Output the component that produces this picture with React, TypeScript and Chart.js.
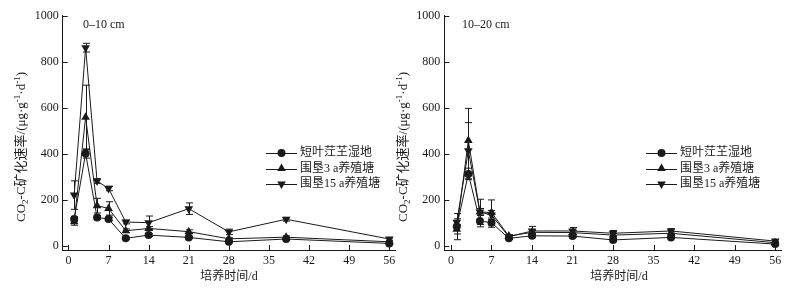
import React, { useEffect, useRef } from "react";
import { Chart, registerables } from "chart.js";

Chart.register(...registerables);

// ---------- data ----------
const days = [1, 3, 5, 7, 10, 14, 21, 28, 38, 56];
const xTicks = [0, 7, 14, 21, 28, 35, 42, 49, 56];
const yTicks = [0, 200, 400, 600, 800, 1000];
const seriesNames = ["短叶茳芏湿地", "围垦3 a养殖塘", "围垦15 a养殖塘"];

// 0–10 cm
const topWetland = [116, 401, 123, 116, 32, 46, 36, 17, 29, 10];
const topWetlandErr = [10, 20, 8, 8, 5, 6, 5, 4, 5, 3];
const top3a = [104, 558, 174, 162, 65, 75, 61, 30, 37, 17];
const top3aErr = [15, 140, 32, 29, 8, 8, 8, 5, 6, 4];
const top15a = [220, 861, 281, 249, 103, 100, 161, 60, 115, 29];
const top15aErr = [62, 19, 10, 10, 8, 29, 25, 12, 8, 5];

// 10–20 cm
const subWetland = [83, 312, 107, 100, 32, 43, 42, 25, 36, 7];
const subWetlandErr = [57, 25, 25, 20, 5, 8, 5, 8, 5, 4];
const sub3a = [71, 457, 147, 144, 42, 58, 57, 46, 54, 13];
const sub3aErr = [20, 140, 55, 55, 5, 8, 8, 8, 6, 4];
const sub15a = [102, 413, 147, 133, 39, 64, 64, 54, 64, 20];
const sub15aErr = [15, 122, 15, 20, 5, 20, 15, 12, 10, 5];

const panelLabels = ["0–10 cm", "10–20 cm"];
const xTitle = "培养时间/d";

const FONT = '"Liberation Serif", "Noto Sans CJK SC", serif';
const INK = "#1a1a1a";

type Panel = {
  width: number;
  yWidth: number;
  padRight: number;
  xMin: number;
  series: number[][];
  errs: number[][];
  label: string;
  labelX: number;
  yTitleX: number;
  xTitleX: number;
};

const styles = [
  { pointStyle: "circle", radius: 4, rotation: 0 },
  { pointStyle: "triangle", radius: 5, rotation: 0 },
  { pointStyle: "triangle", radius: 5, rotation: 180 },
];

function drawMarker(ctx: CanvasRenderingContext2D, kind: number, x: number, y: number) {
  const s = styles[kind];
  ctx.beginPath();
  if (s.pointStyle === "circle") {
    ctx.arc(x, y, s.radius, 0, Math.PI * 2);
  } else {
    let rad = (s.rotation * Math.PI) / 180;
    const r = s.radius;
    ctx.moveTo(x + Math.sin(rad) * r, y - Math.cos(rad) * r);
    rad += (2 * Math.PI) / 3;
    ctx.lineTo(x + Math.sin(rad) * r, y - Math.cos(rad) * r);
    rad += (2 * Math.PI) / 3;
    ctx.lineTo(x + Math.sin(rad) * r, y - Math.cos(rad) * r);
    ctx.closePath();
  }
  ctx.fill();
}

function drawYTitle(ctx: CanvasRenderingContext2D, cx: number, cy: number) {
  const size = 13;
  const small = 9;
  const segs = [
    { t: "CO", s: size, dy: 0 },
    { t: "2", s: small, dy: 3.5 },
    { t: "-C矿化速率/(μg·g", s: size, dy: 0 },
    { t: "-1", s: small, dy: -4 },
    { t: "·d", s: size, dy: 0 },
    { t: "-1", s: small, dy: -4 },
    { t: ")", s: size, dy: 0 },
  ];
  ctx.save();
  ctx.translate(cx, cy);
  ctx.rotate(-Math.PI / 2);
  ctx.fillStyle = INK;
  ctx.textBaseline = "middle";
  ctx.textAlign = "left";
  let total = 0;
  for (const g of segs) {
    ctx.font = `${g.s}px ${FONT}`;
    total += ctx.measureText(g.t).width;
  }
  let x = -total / 2;
  for (const g of segs) {
    ctx.font = `${g.s}px ${FONT}`;
    ctx.fillText(g.t, x, g.dy);
    x += ctx.measureText(g.t).width;
  }
  ctx.restore();
}

function makePlugin(p: Panel) {
  return {
    id: "decor",
    beforeDatasetsDraw(chart: any) {
      const ctx = chart.ctx as CanvasRenderingContext2D;
      const xs = chart.scales.x;
      const ys = chart.scales.y;
      ctx.save();
      ctx.strokeStyle = INK;
      ctx.lineWidth = 1;
      p.series.forEach((vals, si) => {
        const errs = p.errs[si];
        vals.forEach((v, i) => {
          const px = Math.round(xs.getPixelForValue(days[i])) + 0.5;
          const yTop = ys.getPixelForValue(v + errs[i]);
          const yBot = ys.getPixelForValue(v - errs[i]);
          ctx.beginPath();
          ctx.moveTo(px, yTop);
          ctx.lineTo(px, yBot);
          ctx.moveTo(px - 3.5, yTop);
          ctx.lineTo(px + 3.5, yTop);
          ctx.moveTo(px - 3.5, yBot);
          ctx.lineTo(px + 3.5, yBot);
          ctx.stroke();
        });
      });
      ctx.restore();
    },
    afterDraw(chart: any) {
      const ctx = chart.ctx as CanvasRenderingContext2D;
      const xs = chart.scales.x;
      const ys = chart.scales.y;
      const area = chart.chartArea;
      ctx.save();
      ctx.strokeStyle = INK;
      ctx.lineWidth = 1;
      // inward tick marks
      ctx.beginPath();
      for (const t of xTicks) {
        const px = Math.round(xs.getPixelForValue(t)) + 0.5;
        ctx.moveTo(px, area.bottom);
        ctx.lineTo(px, area.bottom - 5);
      }
      for (const t of yTicks) {
        const py = Math.round(ys.getPixelForValue(t)) + 0.5;
        ctx.moveTo(area.left, py);
        ctx.lineTo(area.left + 5, py);
      }
      ctx.stroke();

      // panel label
      ctx.fillStyle = INK;
      ctx.font = `12px ${FONT}`;
      ctx.textBaseline = "middle";
      ctx.textAlign = "left";
      ctx.fillText(p.label, p.labelX, 25);

      // x title
      ctx.textAlign = "center";
      ctx.font = `12px ${FONT}`;
      ctx.fillText(xTitle, p.xTitleX, 277);

      // y title
      drawYTitle(ctx, p.yTitleX, 147);

      // legend
      const rows = [153, 168.5, 184];
      seriesNames.forEach((name, i) => {
        const y = rows[i];
        ctx.beginPath();
        ctx.moveTo(266, Math.round(y) + 0.5);
        ctx.lineTo(297, Math.round(y) + 0.5);
        ctx.stroke();
        ctx.fillStyle = INK;
        drawMarker(ctx, i, 281.5, y);
        ctx.textAlign = "left";
        ctx.font = `12px ${FONT}`;
        ctx.fillText(name, 300, y);
      });
      ctx.restore();
    },
  };
}

function PanelChart({ p, left }: { p: Panel; left: number }) {
  const ref = useRef<HTMLCanvasElement | null>(null);
  useEffect(() => {
    if (!ref.current) return;
    const datasets = p.series.map((vals, si) => ({
      label: seriesNames[si],
      data: vals.map((v, i) => ({ x: days[i], y: v })),
      borderColor: INK,
      backgroundColor: INK,
      borderWidth: 1,
      pointStyle: styles[si].pointStyle as any,
      pointRadius: styles[si].radius,
      pointRotation: styles[si].rotation,
      pointBorderWidth: 0,
      tension: 0,
    }));
    const tickFont = { family: FONT, size: 12 };
    const chart = new Chart(ref.current, {
      type: "line",
      data: { datasets },
      options: {
        responsive: false,
        animation: false,
        layout: { padding: { left: 0, right: p.padRight, top: 15.7, bottom: 0 } },
        plugins: { legend: { display: false }, tooltip: { enabled: false } },
        scales: {
          x: {
            type: "linear",
            min: p.xMin,
            max: 57,
            grid: { display: false, drawTicks: false },
            border: { display: true, color: INK, width: 1 },
            ticks: {
              font: tickFont,
              color: INK,
              padding: 4,
              autoSkip: false,
              maxRotation: 0,
              callback: (v: any) => String(v),
            },
            afterBuildTicks: (s: any) => {
              s.ticks = xTicks.map((v) => ({ value: v }));
            },
            afterFit: (s: any) => {
              s.height = 41;
              s.paddingLeft = 0;
              s.paddingRight = 0;
            },
          },
          y: {
            type: "linear",
            min: -18.7,
            max: 1000,
            grid: { display: false, drawTicks: false },
            border: { display: true, color: INK, width: 1 },
            ticks: { font: tickFont, color: INK, padding: 4, callback: (v: any) => String(v) },
            afterBuildTicks: (s: any) => {
              s.ticks = yTicks.map((v) => ({ value: v }));
            },
            afterFit: (s: any) => {
              s.width = p.yWidth;
              s.paddingTop = 0;
              s.paddingBottom = 0;
            },
          },
        },
      } as any,
      plugins: [makePlugin(p)],
    });
    return () => chart.destroy();
  }, []);
  return (
    <canvas
      ref={ref}
      width={p.width}
      height={291}
      style={{ position: "absolute", left, top: 0, width: p.width, height: 291, display: "block" }}
    />
  );
}

const leftPanel: Panel = {
  width: 400,
  yWidth: 62.7,
  padRight: 1.7,
  xMin: -1,
  series: [topWetland, top3a, top15a],
  errs: [topWetlandErr, top3aErr, top15aErr],
  label: panelLabels[0],
  labelX: 83,
  yTitleX: 22,
  xTitleX: 229,
};

const rightPanel: Panel = {
  width: 415,
  yWidth: 64.3,
  padRight: 14,
  xMin: -1.15,
  series: [subWetland, sub3a, sub15a],
  errs: [subWetlandErr, sub3aErr, sub15aErr],
  label: panelLabels[1],
  labelX: 82,
  yTitleX: 24,
  xTitleX: 239,
};

export default function App() {
  return (
    <div style={{ position: "absolute", left: 0, top: 0, width: 795, height: 291, background: "#fff" }}>
      <PanelChart p={leftPanel} left={0} />
      <PanelChart p={rightPanel} left={380} />
    </div>
  );
}
